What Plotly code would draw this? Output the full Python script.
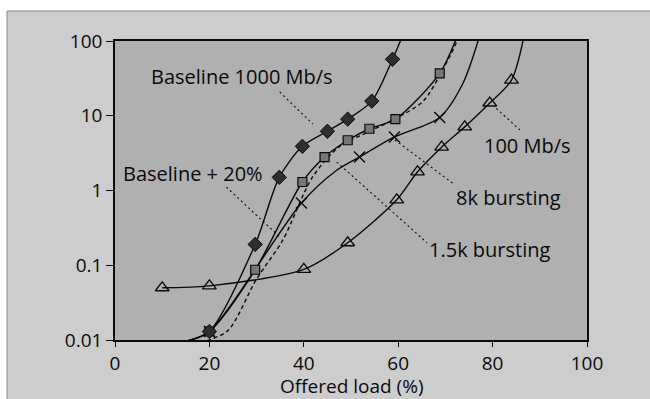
import numpy as np
import plotly.graph_objects as go

# ---------------- data ----------------
# Baseline 1000 Mb/s (filled diamonds)
base_x = [20, 29.7, 34.8, 39.7, 45, 49.3, 54.4, 58.8]
base_y = [0.013, 0.19, 1.5, 3.9, 6.2, 9, 15.7, 57]
base_line_x = [15.5, 20, 29.7, 34.8, 39.7, 45, 49.3, 54.4, 58.8, 61.2]
base_line_y = [0.0098, 0.013, 0.19, 1.5, 3.9, 6.2, 9, 15.7, 57, 130]

# Baseline + 20% (dashed, no markers)
plus20_x = [19.5, 24, 29.9, 35.6, 41.8, 47.6, 54, 59.2, 65.3, 70.6, 73.3]
plus20_y = [0.0098, 0.0135, 0.064, 0.22, 1.5, 3.9, 6.2, 9, 15.7, 57, 130]

# 1.5k bursting (grey squares)
b15_x = [20, 29.7, 39.7, 44.4, 49.3, 53.9, 59.4, 68.8]
b15_y = [0.013, 0.087, 1.3, 2.8, 4.7, 6.7, 9, 37]
b15_line_x = [15.5, 20, 29.7, 39.7, 44.4, 49.3, 53.9, 59.4, 68.8, 72.6]
b15_line_y = [0.0098, 0.013, 0.087, 1.3, 2.8, 4.7, 6.7, 9, 37, 120]

# 8k bursting (crosses)
b8_x = [20, 39.5, 51.8, 59.2, 68.8]
b8_y = [0.013, 0.68, 2.8, 5.2, 9.5]
b8_line_x = [15.5, 20, 39.5, 46.9, 51.8, 59.2, 68.8, 73.7, 77.3]
b8_line_y = [0.0098, 0.013, 0.68, 1.85, 2.8, 5.2, 9.5, 27, 120]

# 100 Mb/s (open triangles)
m100_x = [10, 20, 40, 49.3, 59.7, 64.1, 69.2, 74.1, 79.4, 84]
m100_y = [0.05, 0.053, 0.088, 0.2, 0.75, 1.78, 3.8, 7.1, 14.8, 30]
m100_line_x = m100_x + [86.7]
m100_line_y = m100_y + [120]

# labels: text, label position, leader start, leader end (data units)
labels = [
    ("Baseline 1000 Mb/s", 26.9, 34.0, (34.9, 20.8), (41.9, 7.76)),
    ("Baseline + 20%", 16.5, 1.71, (23.6, 1.11), (34.9, 0.239)),
    ("100 Mb/s", 87.4, 4.06, (80.8, 12.5), (85.8, 6.46)),
    ("8k bursting", 83.4, 0.794, (59.3, 4.74), (72.0, 1.19)),
    ("1.5k bursting", 79.4, 0.16, (47.0, 2.4), (66.1, 0.2)),
]

x_ticks = [0, 20, 40, 60, 80, 100]
y_ticks = [0.01, 0.1, 1, 10, 100]
y_ticktext = ["0.01", "0.1", "1", "10", "100"]
x_title = "Offered load (%)"

FONT = "Open Sans"
FS = 20
TFS = 19
INK = "#0a0a0a"

fig = go.Figure()

def curve(x, y, dash="solid"):
    fig.add_trace(go.Scatter(x=x, y=y, mode="lines", line_shape="spline",
                             line=dict(color=INK, width=1.4, dash=dash, smoothing=0.8),
                             hoverinfo="skip", showlegend=False, cliponaxis=True))

curve(m100_line_x, m100_line_y)
curve(b8_line_x, b8_line_y)
curve(b15_line_x, b15_line_y)
curve(plus20_x, plus20_y, dash="4px,3px")
curve(base_line_x, base_line_y)

# leaders
for text, lx, ly, p0, p1 in labels:
    fig.add_trace(go.Scatter(x=[p0[0], p1[0]], y=[p0[1], p1[1]], mode="lines",
                             line=dict(color=INK, width=1.1, dash="2px,3px"),
                             hoverinfo="skip", showlegend=False))

# markers
fig.add_trace(go.Scatter(x=m100_x, y=m100_y, mode="markers",
                         marker=dict(symbol="triangle-up", size=12, color="rgba(0,0,0,0)",
                                     line=dict(color=INK, width=1.3)),
                         showlegend=False, cliponaxis=False))
fig.add_trace(go.Scatter(x=b8_x, y=b8_y, mode="markers",
                         marker=dict(symbol="x-thin", size=11, color=INK,
                                     line=dict(color=INK, width=1.4)),
                         showlegend=False, cliponaxis=False))
fig.add_trace(go.Scatter(x=b15_x, y=b15_y, mode="markers",
                         marker=dict(symbol="square", size=9, color="#777777",
                                     line=dict(color=INK, width=1.2)),
                         showlegend=False, cliponaxis=False))
fig.add_trace(go.Scatter(x=base_x, y=base_y, mode="markers",
                         marker=dict(symbol="diamond", size=11, color="#2e2e2e",
                                     line=dict(color=INK, width=1.0)),
                         showlegend=False, cliponaxis=False))

for text, lx, ly, p0, p1 in labels:
    fig.add_annotation(x=lx, y=np.log10(ly), xref="x", yref="y", text=text,
                       showarrow=False, font=dict(family=FONT, size=FS, color=INK),
                       xanchor="center", yanchor="middle")

# x-axis title placed as paper annotation
fig.add_annotation(x=0.5, y=-0.1538, xref="paper", yref="paper", text=x_title,
                   showarrow=False, font=dict(family=FONT, size=TFS, color=INK),
                   xanchor="center", yanchor="middle")

# outer frame (light halftone grey area) and darker plot area
fig.add_shape(type="rect", xref="paper", yref="paper",
              x0=-0.2288, x1=1.14, y0=-0.21, y1=1.1003,
              fillcolor="#cdcdcd", line=dict(color="#8a8a8a", width=1), layer="below")
fig.add_shape(type="rect", xref="paper", yref="paper",
              x0=0, x1=1, y0=0, y1=1,
              fillcolor="#b0b0b0", line=dict(width=0), layer="below")

fig.update_layout(
    width=650, height=399,
    margin=dict(l=115, r=63, t=41, b=59, autoexpand=False),
    paper_bgcolor="white",
    plot_bgcolor="#b0b0b0",
    font=dict(family=FONT, size=FS, color=INK),
    showlegend=False,
)
fig.update_xaxes(range=[0, 100], tickvals=x_ticks, ticks="outside", ticklen=5,
                 tickwidth=1.3, tickcolor=INK, showline=True, linecolor=INK, linewidth=1.5,
                 mirror=True, showgrid=False, zeroline=False, automargin=False,
                 tickfont=dict(family=FONT, size=TFS, color=INK))
fig.update_yaxes(type="log", range=[-2, 2], tickvals=y_ticks, ticktext=y_ticktext,
                 ticks="outside", ticklen=7, tickwidth=1.3, tickcolor=INK,
                 showline=True, linecolor=INK, linewidth=1.5, mirror=True,
                 showgrid=False, zeroline=False, automargin=False,
                 tickfont=dict(family=FONT, size=TFS, color=INK))

fig.write_html("out.html")
